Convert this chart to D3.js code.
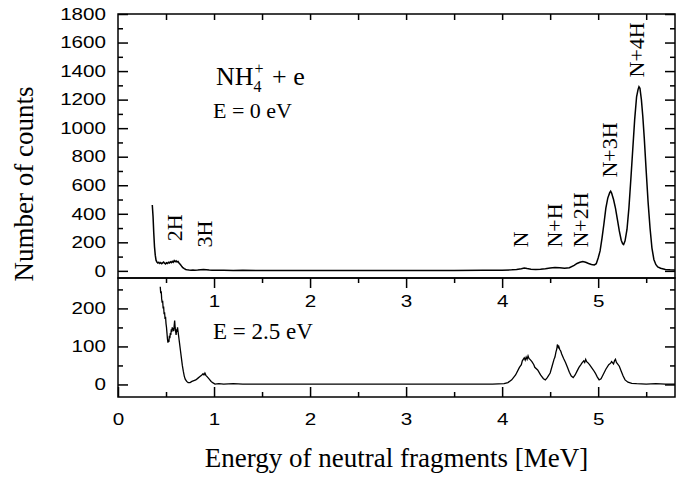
<!DOCTYPE html>
<html>
<head>
<meta charset="utf-8">
<script src="https://cdn.jsdelivr.net/npm/d3@7"></script>
<style>
  body { margin: 0; background: #fff; }
  svg { display: block; }
</style>
</head>
<body>
<div id="chart"></div>
<script>
// E = 0 eV spectrum (energy in MeV, counts)
const topEnergy = [0.357, 0.365, 0.372, 0.380, 0.388, 0.396, 0.405, 0.415, 0.425, 0.435, 0.445, 0.455, 0.465, 0.475, 0.485, 0.495, 0.505, 0.515, 0.525, 0.535, 0.545, 0.555, 0.565, 0.575, 0.585, 0.595, 0.605, 0.615, 0.625, 0.635, 0.645, 0.655, 0.665, 0.675, 0.690, 0.705, 0.72, 0.74, 0.76, 0.78, 0.80, 0.83, 0.86, 0.89, 0.92, 0.95, 0.98, 1.02, 1.1, 1.2, 1.3, 1.5, 1.7, 2.0, 2.3, 2.6, 2.9, 3.2, 3.5, 3.8, 4.0, 4.1, 4.15, 4.2, 4.23, 4.26, 4.3, 4.35, 4.4, 4.45, 4.5, 4.55, 4.6, 4.65, 4.7, 4.75, 4.78, 4.81, 4.84, 4.87, 4.9, 4.93, 4.96, 4.98, 5.00, 5.02, 5.04, 5.06, 5.08, 5.10, 5.12, 5.13, 5.14, 5.16, 5.18, 5.20, 5.22, 5.24, 5.255, 5.265, 5.28, 5.30, 5.32, 5.34, 5.36, 5.38, 5.40, 5.415, 5.425, 5.435, 5.45, 5.465, 5.48, 5.50, 5.52, 5.54, 5.56, 5.58, 5.60, 5.62, 5.65, 5.70, 5.75, 5.80];
const topCounts = [462, 380, 270, 170, 110, 75, 62, 55, 60, 52, 58, 50, 56, 62, 54, 48, 57, 52, 60, 55, 64, 58, 66, 60, 72, 64, 70, 62, 66, 55, 48, 40, 30, 22, 15, 10, 8, 6, 5, 6, 5, 6, 8, 9, 8, 6, 5, 4, 4, 3, 4, 3, 3, 3, 3, 3, 3, 3, 3, 4, 5, 7, 10, 15, 20, 16, 12, 10, 11, 15, 20, 24, 22, 18, 22, 38, 52, 60, 66, 60, 52, 45, 42, 50, 90, 140, 230, 330, 440, 510, 548, 558, 545, 500, 440, 360, 280, 215, 190, 185, 210, 290, 440, 640, 850, 1060, 1220, 1270, 1290, 1280, 1200, 1080, 930, 700, 480, 300, 160, 80, 45, 28, 18, 10, 7, 6];

// E = 2.5 eV spectrum
const bottomEnergy = [0.440, 0.445, 0.450, 0.455, 0.460, 0.465, 0.470, 0.475, 0.480, 0.485, 0.490, 0.495, 0.500, 0.505, 0.510, 0.515, 0.520, 0.525, 0.530, 0.535, 0.540, 0.545, 0.550, 0.555, 0.560, 0.565, 0.570, 0.575, 0.580, 0.585, 0.590, 0.595, 0.600, 0.605, 0.610, 0.615, 0.620, 0.625, 0.630, 0.640, 0.650, 0.660, 0.670, 0.680, 0.690, 0.700, 0.715, 0.730, 0.750, 0.770, 0.790, 0.810, 0.830, 0.850, 0.870, 0.885, 0.895, 0.905, 0.915, 0.930, 0.950, 0.970, 0.990, 1.010, 1.05, 1.10, 1.20, 1.30, 1.40, 1.60, 1.80, 2.0, 2.5, 3.0, 3.5, 3.9, 4.02, 4.06, 4.10, 4.14, 4.18, 4.20, 4.21, 4.23, 4.24, 4.25, 4.26, 4.27, 4.28, 4.29, 4.31, 4.33, 4.34, 4.37, 4.40, 4.43, 4.45, 4.47, 4.50, 4.52, 4.54, 4.55, 4.56, 4.57, 4.575, 4.585, 4.59, 4.60, 4.61, 4.62, 4.64, 4.66, 4.68, 4.70, 4.72, 4.74, 4.76, 4.78, 4.80, 4.82, 4.83, 4.85, 4.86, 4.87, 4.88, 4.89, 4.91, 4.93, 4.95, 4.97, 4.99, 5.01, 5.03, 5.05, 5.08, 5.11, 5.13, 5.14, 5.16, 5.17, 5.18, 5.19, 5.20, 5.22, 5.24, 5.26, 5.28, 5.31, 5.35, 5.40, 5.5, 5.6, 5.7, 5.8];
const bottomCounts = [257, 240, 245, 225, 215, 220, 200, 205, 185, 190, 172, 178, 160, 150, 135, 120, 110, 118, 112, 128, 122, 135, 130, 145, 138, 150, 142, 148, 140, 155, 168, 150, 140, 130, 145, 138, 150, 140, 130, 110, 90, 70, 50, 35, 22, 14, 8, 5, 5, 8, 10, 12, 16, 20, 24, 28, 25, 30, 24, 20, 14, 8, 4, 1, 2, 1, 2, 1, 1, 1, 1, 1, 1, 1, 1, 1, 2, 5, 12, 25, 45, 52, 62, 70, 64, 72, 66, 75, 68, 66, 60, 52, 45, 38, 25, 15, 12, 18, 30, 48, 66, 72, 85, 94, 105, 98, 100, 92, 88, 80, 68, 58, 45, 32, 22, 18, 25, 35, 45, 52, 56, 62, 58, 66, 60, 58, 52, 45, 38, 30, 20, 12, 15, 25, 40, 52, 56, 60, 54, 62, 66, 58, 55, 48, 35, 22, 12, 6, 3, 2, 1, 2, 1, 1];

const xTicks = [0, 1, 2, 3, 4, 5];
const upperXTicks = [1, 2, 3, 4, 5];
const topYTicks = [0, 200, 400, 600, 800, 1000, 1200, 1400, 1600, 1800];
const bottomYTicks = [0, 100, 200];

const peakLabels = ['2H', '3H', 'N', 'N+H', 'N+2H', 'N+3H', 'N+4H'];
const peakEnergy = [0.667, 0.979, 4.27, 4.625, 4.896, 5.198, 5.479];
const peakCounts = [207, 163, 163, 163, 163, 654, 1355];

const W = 686, H = 478;
const left = 118, right = 675;
const topY0 = 14, midY = 278, botY1 = 397;

const svg = d3.select('#chart').append('svg')
  .attr('width', W).attr('height', H);

const x = d3.scaleLinear().domain([0, 5.8]).range([left, right]);
const yTop = d3.scaleLinear().domain([-50, 1800]).range([midY, topY0]);
const yBot = d3.scaleLinear().domain([-33, 280]).range([botY1, midY]);

const sansFont = 'Liberation Sans, Arial, sans-serif';
const serifFont = 'Liberation Serif, Times New Roman, serif';
const stretch = 1.25;
const fmt = d3.format('d');

function range(a, b, s) {
  const out = [];
  for (let v = a; v <= b + 1e-9; v += s) out.push(+v.toFixed(3));
  return out;
}

function styleAxis(g) {
  g.select('.domain').remove();
  g.selectAll('line').attr('stroke', '#000').attr('stroke-width', 1.5);
  g.attr('font-family', sansFont).attr('font-size', 16.5);
}

// clip paths
const defs = svg.append('defs');
defs.append('clipPath').attr('id', 'clipTop').append('rect')
  .attr('x', left).attr('y', topY0).attr('width', right - left).attr('height', midY - topY0);
defs.append('clipPath').attr('id', 'clipBot').append('rect')
  .attr('x', left).attr('y', midY).attr('width', right - left).attr('height', botY1 - midY);

// data lines
const topData = topEnergy.map((e, i) => [e, topCounts[i]]);
const botData = bottomEnergy.map((e, i) => [e, bottomCounts[i]]);

svg.append('path')
  .datum(topData)
  .attr('clip-path', 'url(#clipTop)')
  .attr('fill', 'none').attr('stroke', '#000').attr('stroke-width', 1.5)
  .attr('d', d3.line().x(d => x(d[0])).y(d => yTop(d[1])));

svg.append('path')
  .datum(botData)
  .attr('clip-path', 'url(#clipBot)')
  .attr('fill', 'none').attr('stroke', '#000').attr('stroke-width', 1.3)
  .attr('d', d3.line().x(d => x(d[0])).y(d => yBot(d[1])));

// Top panel axes
const topLeft = svg.append('g').attr('transform', `translate(${left},0)`)
  .call(d3.axisLeft(yTop).tickValues(topYTicks).tickSize(-10).tickPadding(12).tickFormat(fmt));
styleAxis(topLeft);
svg.append('g').attr('transform', `translate(${left},0)`)
  .call(d3.axisLeft(yTop).tickValues(range(100, 1700, 200)).tickSize(-5).tickFormat(''))
  .call(styleAxis);
svg.append('g').attr('transform', `translate(${right},0)`)
  .call(d3.axisRight(yTop).tickValues(topYTicks).tickSize(-10).tickFormat(''))
  .call(styleAxis);
svg.append('g').attr('transform', `translate(${right},0)`)
  .call(d3.axisRight(yTop).tickValues(range(100, 1700, 200)).tickSize(-5).tickFormat(''))
  .call(styleAxis);
svg.append('g').attr('transform', `translate(0,${topY0})`)
  .call(d3.axisTop(x).tickValues(range(0.5, 5.5, 0.5)).tickSize(-6).tickFormat(''))
  .call(styleAxis);

// upper panel's x labels, drawn just under the shared edge
const midAxis = svg.append('g').attr('transform', `translate(0,${midY})`)
  .call(d3.axisBottom(x).tickValues(upperXTicks).tickSize(10).tickPadding(7).tickFormat(fmt));
styleAxis(midAxis);
svg.append('g').attr('transform', `translate(0,${midY})`)
  .call(d3.axisBottom(x).tickValues(range(0.5, 5.5, 1)).tickSize(5).tickFormat(''))
  .call(styleAxis);

// Bottom panel axes
const botLeft = svg.append('g').attr('transform', `translate(${left},0)`)
  .call(d3.axisLeft(yBot).tickValues(bottomYTicks).tickSize(-10).tickPadding(12).tickFormat(fmt));
styleAxis(botLeft);
svg.append('g').attr('transform', `translate(${left},0)`)
  .call(d3.axisLeft(yBot).tickValues([50, 150, 250]).tickSize(-5).tickFormat(''))
  .call(styleAxis);
svg.append('g').attr('transform', `translate(${right},0)`)
  .call(d3.axisRight(yBot).tickValues(bottomYTicks).tickSize(-10).tickFormat(''))
  .call(styleAxis);
svg.append('g').attr('transform', `translate(${right},0)`)
  .call(d3.axisRight(yBot).tickValues([50, 150, 250]).tickSize(-5).tickFormat(''))
  .call(styleAxis);
const botAxis = svg.append('g').attr('transform', `translate(0,${botY1})`)
  .call(d3.axisBottom(x).tickValues(xTicks).tickSize(-10).tickPadding(16).tickFormat(fmt));
styleAxis(botAxis);
svg.append('g').attr('transform', `translate(0,${botY1})`)
  .call(d3.axisBottom(x).tickValues(range(0.5, 5.5, 1)).tickSize(-5).tickFormat(''))
  .call(styleAxis);

// stretch tick labels horizontally like the original
[topLeft, botLeft].forEach(g => {
  g.selectAll('text')
    .attr('x', -12 / stretch)
    .attr('transform', `scale(${stretch},1)`);
});
[botAxis, midAxis].forEach(g => g.selectAll('text').attr('transform', `scale(${stretch},1)`));

// frames
[[topY0, midY], [midY, botY1]].forEach(([a, b]) => {
  svg.append('rect')
    .attr('x', left).attr('y', a)
    .attr('width', right - left).attr('height', b - a)
    .attr('fill', 'none').attr('stroke', '#000').attr('stroke-width', 1.5);
});

// Peak labels (rotated)
peakLabels.forEach((t, i) => {
  svg.append('text')
    .attr('transform', `translate(${x(peakEnergy[i])},${yTop(peakCounts[i])}) rotate(-90)`)
    .attr('font-family', serifFont).attr('font-size', 22)
    .text(t);
});

// NH4+ + e
const nh = svg.append('text')
  .attr('x', 216).attr('y', 85)
  .attr('font-family', serifFont).attr('font-size', 26)
  .text('NH');
const nhW = nh.node().getComputedTextLength();
svg.append('text')
  .attr('x', 216 + nhW).attr('y', 92)
  .attr('font-family', serifFont).attr('font-size', 16)
  .text('4');
svg.append('text')
  .attr('x', 216 + nhW + 1).attr('y', 74)
  .attr('font-family', serifFont).attr('font-size', 16)
  .text('+');
svg.append('text')
  .attr('x', 216 + nhW + 12).attr('y', 85)
  .attr('font-family', serifFont).attr('font-size', 26)
  .text('\u00a0+ e');

svg.append('text')
  .attr('x', 213).attr('y', 118)
  .attr('font-family', serifFont).attr('font-size', 22)
  .text('E = 0 eV');

svg.append('text')
  .attr('x', 213).attr('y', 339)
  .attr('font-family', serifFont).attr('font-size', 23)
  .text('E = 2.5 eV');

// Axis titles
svg.append('text')
  .attr('x', (left + right) / 2).attr('y', 467)
  .attr('text-anchor', 'middle')
  .attr('font-family', serifFont).attr('font-size', 27)
  .text('Energy of neutral fragments [MeV]');

svg.append('text')
  .attr('transform', `translate(33,184) rotate(-90)`)
  .attr('text-anchor', 'middle')
  .attr('font-family', serifFont).attr('font-size', 27)
  .text('Number of counts');
</script>
</body>
</html>
